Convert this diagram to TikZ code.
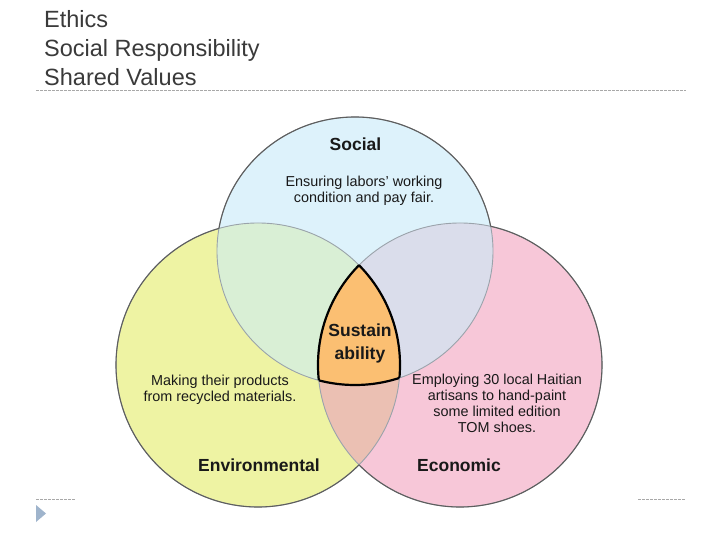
\documentclass[tikz,border=0pt]{standalone}
\usepackage{fontspec}
\setmainfont{Liberation Sans}
\definecolor{socc}{HTML}{DDF2FB}
\definecolor{envc}{HTML}{EEF3A3}
\definecolor{ecoc}{HTML}{F7C7D8}
\definecolor{syc}{HTML}{D9EFD5}
\definecolor{spc}{HTML}{DADDEB}
\definecolor{ypc}{HTML}{EBC0B3}
\definecolor{orc}{HTML}{FBBF72}
\definecolor{outc}{HTML}{5E5E5E}
\definecolor{inc}{HTML}{9AA3AB}
\definecolor{titc}{HTML}{3A3A3A}
\definecolor{dashc}{HTML}{A8A8A8}
\definecolor{tric}{HTML}{9FB4CC}
\newcommand\socpath{(355,251) ellipse [x radius=138pt, y radius=134pt]}
\newcommand\envpath{(258,365) circle [radius=142pt]}
\newcommand\ecopath{(460,365) circle [radius=142pt]}
\tikzset{
  titletext/.style={anchor=base west, inner sep=0pt, text=titc, font=\fontsize{23.5}{28}\selectfont},
  desc/.style={align=center, inner sep=0pt, text=black!90, font=\fontsize{14.4}{16}\selectfont},
  head/.style={align=center, inner sep=0pt, text=black!90, font=\bfseries\fontsize{17.5}{23}\selectfont},
  outer/.style={draw=outc, line width=1.1pt},
  inner/.style={draw=inc, line width=0.9pt},
  border/.style={draw=black, line width=2.2pt, line join=round},
  dashline/.style={draw=dashc, line width=0.6pt, dash pattern=on 2.5pt off 1.5pt}
}
\begin{document}
\begin{tikzpicture}[x=1pt,y=-1pt]
\useasboundingbox[fill=white] (0,0) rectangle (720,540);
% titles
\node[titletext] (t1) at (44,28) {Ethics};
\node[titletext] (t2) at (44,57) {Social Responsibility};
\node[titletext] (t3) at (44,86) {Shared Values};
\coordinate (d1a) at (36,90); \coordinate (d1b) at (686,90);
\draw[dashline] (d1a) -- (d1b);
\coordinate (d2a) at (36,499); \coordinate (d2b) at (76,499);
\draw[dashline] (d2a) -- (d2b);
\coordinate (d3a) at (638,499); \coordinate (d3b) at (686,499);
\draw[dashline] (d3a) -- (d3b);
\fill[tric] (36,505) -- (46,513.5) -- (36,522) -- cycle;
% base fills
\fill[socc] \socpath;
\fill[envc] \envpath;
\fill[ecoc] \ecopath;
\begin{scope}\clip \socpath; \fill[syc] \envpath; \end{scope}
\begin{scope}\clip \socpath; \fill[spc] \ecopath; \end{scope}
\begin{scope}\clip \envpath; \fill[ypc] \ecopath; \end{scope}
\begin{scope}\clip \socpath; \clip \envpath; \fill[orc] \ecopath; \end{scope}
% inner arcs
\draw[inner] \socpath;
\draw[inner] \envpath;
\draw[inner] \ecopath;
% outer arcs
\begin{scope}[even odd rule]
  \clip (0,0) rectangle (720,540) \envpath;
  \clip (0,0) rectangle (720,540) \ecopath;
  \draw[outer] \socpath;
\end{scope}
\begin{scope}[even odd rule]
  \clip (0,0) rectangle (720,540) \socpath;
  \clip (0,0) rectangle (720,540) \ecopath;
  \draw[outer] \envpath;
\end{scope}
\begin{scope}[even odd rule]
  \clip (0,0) rectangle (720,540) \socpath;
  \clip (0,0) rectangle (720,540) \envpath;
  \draw[outer] \ecopath;
\end{scope}
% center border
\begin{scope}\clip \envpath; \clip \ecopath; \draw[border] \socpath; \end{scope}
\begin{scope}\clip \socpath; \clip \ecopath; \draw[border] \envpath; \end{scope}
\begin{scope}\clip \socpath; \clip \envpath; \draw[border] \ecopath; \end{scope}
% texts
\node[head] (social) at (355.5,144) {Social};
\node[desc] (socdesc) at (364,191) {Ensuring labors’ working\\condition and pay fair.};
\node[head] (sust) at (360,343.5) {Sustain\\ability};
\node[desc] (envdesc) at (220,390) {Making their products\\from recycled materials.};
\node[desc] (ecodesc) at (497,403) {Employing 30 local Haitian\\artisans to hand-paint\\some limited edition\\TOM shoes.};
\node[head] (env) at (259,465) {Environmental};
\node[head] (eco) at (459,465) {Economic};
\end{tikzpicture}
\end{document}
